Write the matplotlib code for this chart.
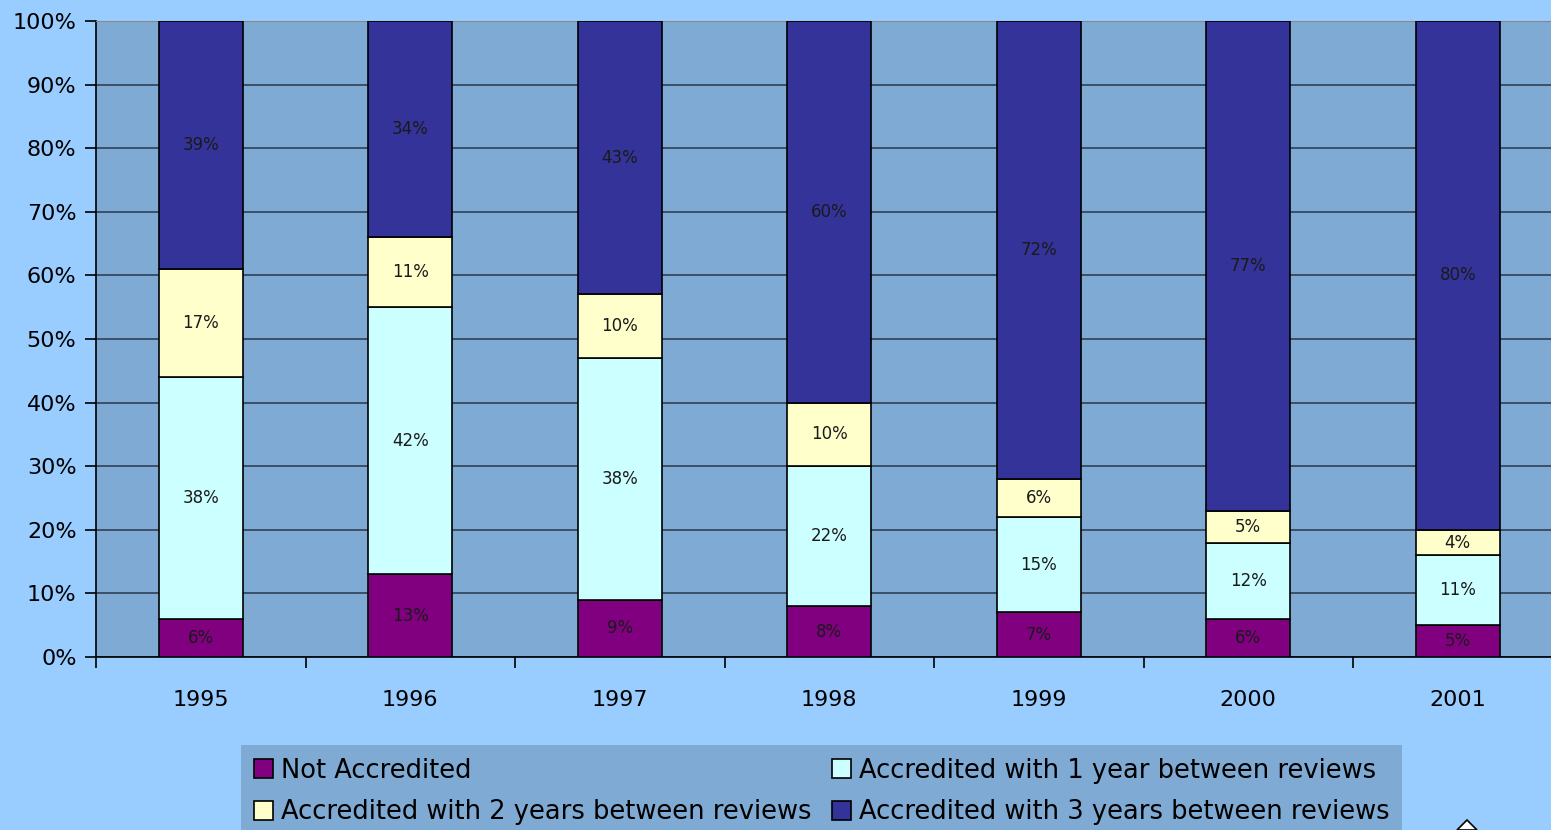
import numpy as np
import matplotlib.pyplot as plt
from matplotlib.patches import Polygon

years = ['1995', '1996', '1997', '1998', '1999', '2000', '2001']
not_accredited = [6, 13, 9, 8, 7, 6, 5]
one_year = [38, 42, 38, 22, 15, 12, 11]
two_years = [17, 11, 10, 10, 6, 5, 4]
three_years = [39, 34, 43, 60, 72, 77, 80]

series = [
    ('Not Accredited', not_accredited, '#800080'),
    ('Accredited with 1 year between reviews', one_year, '#CCFFFF'),
    ('Accredited with 2 years between reviews', two_years, '#FFFFCC'),
    ('Accredited with 3 years between reviews', three_years, '#333399'),
]

plt.rcParams['font.family'] = ['DejaVu Sans']

fig = plt.figure(figsize=(15.51, 8.30), dpi=100, facecolor='#99CCFF')
# plot area runs a little past the right edge of the figure
ax = fig.add_axes([96 / 1551, 173 / 830, 1466.5 / 1551, 636 / 830])
ax.set_facecolor('#7FAAD4')

x = np.arange(len(years))
bottom = np.zeros(len(years))
bars = {}
for name, vals, col in series:
    vals = np.array(vals, dtype=float)
    b = ax.bar(x, vals, 0.4, bottom=bottom, color=col, edgecolor='black',
               linewidth=1.2, label=name, zorder=3)
    bars[name] = b
    for xi, v, b0 in zip(x, vals, bottom):
        ax.text(xi, b0 + v / 2, f'{int(v)}%', ha='center', va='center',
                fontsize=12, color='#1a1a1a', zorder=4)
    bottom += vals

ax.set_xlim(-0.5, len(years) - 0.5)
ax.set_ylim(0, 100)
ax.set_yticks(np.arange(0, 101, 10))
ax.set_yticklabels([f'{v}%' for v in range(0, 101, 10)], fontsize=16)
ax.yaxis.grid(True, color='#1f2f3f', linewidth=1.2, alpha=0.85, zorder=0)
ax.set_axisbelow(True)

# category boundaries carry the ticks, year names sit between them
ax.set_xticks(np.arange(-0.5, len(years), 1))
ax.set_xticklabels([])
ax.set_xticks(x, minor=True)
ax.set_xticklabels(years, minor=True, fontsize=16)
ax.tick_params(axis='x', which='minor', length=0, pad=24)
ax.tick_params(axis='x', which='major', length=8, width=1.2, direction='out')
ax.tick_params(axis='y', length=8, width=1.2, direction='out', pad=6)

ax.spines['right'].set_visible(False)
ax.spines['top'].set_color('#888888')
ax.spines['left'].set_linewidth(1.2)
ax.spines['bottom'].set_linewidth(1.2)

handles = [bars[series[i][0]] for i in (0, 2, 1, 3)]
labels = [series[i][0] for i in (0, 2, 1, 3)]
leg = fig.legend(handles, labels, ncol=2, loc='upper left',
                 bbox_to_anchor=(241 / 1551, 85 / 830), frameon=True,
                 fancybox=False, fontsize=18.5, handlelength=0.75,
                 handleheight=0.75, handletextpad=0.3, columnspacing=0.8,
                 labelspacing=0.6, borderpad=0.5, borderaxespad=0)
leg.get_frame().set_facecolor('#7FAAD4')
leg.get_frame().set_edgecolor('none')
leg.get_frame().set_alpha(1)

# small navigation marker at the bottom edge
fig.patches.append(Polygon([[1457 / 1551, 0], [1467 / 1551, 10 / 830],
                            [1477 / 1551, 0]], closed=True,
                           facecolor='white', edgecolor='black',
                           linewidth=1.2, transform=fig.transFigure))

fig.savefig('out.png', dpi=100, facecolor=fig.get_facecolor())
